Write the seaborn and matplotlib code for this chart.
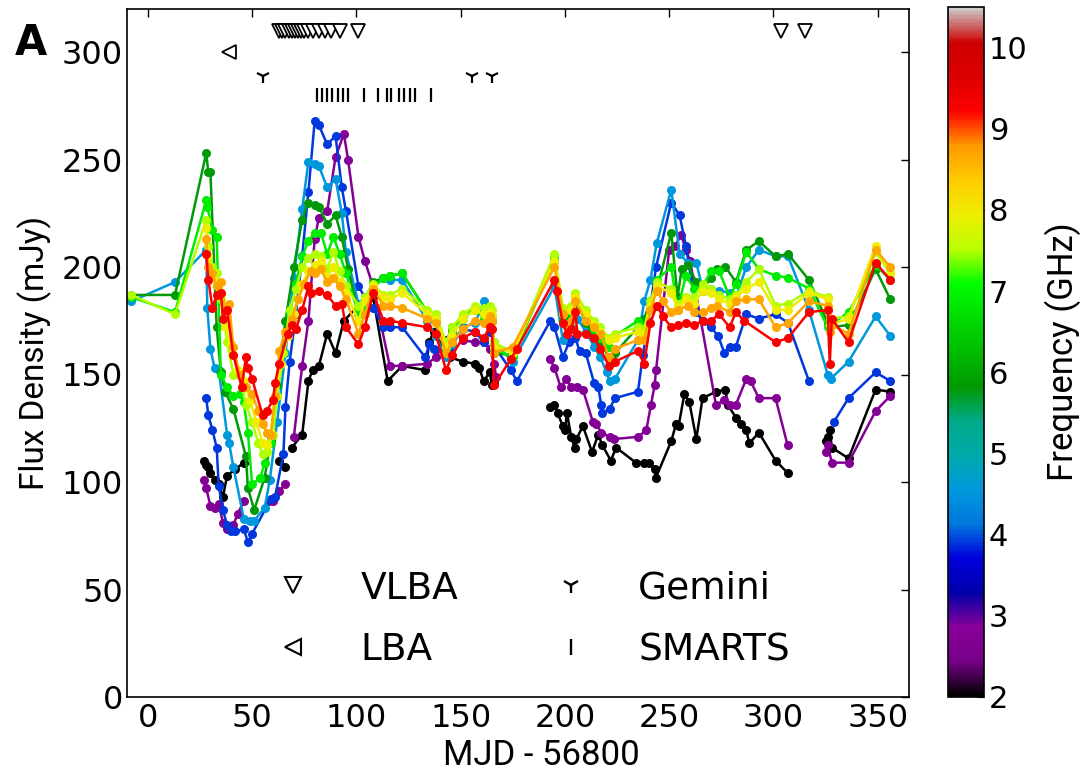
import numpy as np
import pandas as pd
import seaborn as sns
import matplotlib
matplotlib.use("Agg")
import matplotlib.pyplot as plt
from matplotlib.lines import Line2D
from matplotlib.colors import Normalize
from matplotlib.cm import ScalarMappable

nan = np.nan

# observing frequency (GHz) of each light curve
freq_black = 2.0
freq_purple = 2.75
freq_blue = 3.9
freq_teal = 4.55
freq_dkgreen = 5.8
freq_green = 6.85
freq_lime = 7.5
freq_yellow = 7.95
freq_orange = 8.7
freq_red = 9.3

# MJD - 56800 and flux density (mJy); nan marks a gap in the light curve
mjd_black = [27, 28, 29, 30, 32, 34, 36, 38, 42, 46, nan,
             63, 66, nan,
             69, 74, 77, 79, 82, 86, 90, 94, 102, 108, 115, 122, 133, 135, 137, 145,
             151, 157, 159, 161, 164, 165, 166, nan,
             193, 195, 196.5, 199, 200, 201, 203, 204.6, 205.5, 208.6, 213, 216, 218,
             222, 224.6, 234, 238, 240.5, 243, 243.6, 251, 253.3, 254.5, 257.3, 259.7,
             263, 266, 272.5, 277, 278, 282, 284.5, 287, 288.4, 293, 301, 307, nan,
             325, 326, 327, 328, 336, 349, 356]
flux_black = [110, 108, 107, 104, 101, 99, 93, 103, 106, 109, nan,
              110, 107, nan,
              116, 122, 147, 152, 154, 169, 160, 175, 183, 186, 147, 154, 152, 165, 170, 158,
              156, 155, 153, 147, 151, 145, 146, nan,
              135, 136, 132, 126, 124, 132, 121, 116, 120, 126, 114, 122, 117,
              110, 116, 109, 109, 109, 106, 102, 119, 127, 126, 141, 137,
              120, 139, 142, 143, 136, 130, 127, 124, 118, 123, 110, 104, nan,
              119, 121, 124, 116, 111, 143, 142]

mjd_purple = [27, 28, 30, 32, 34, 36, 38, 41, 43, 46, nan,
              58, 60, 63, 66, nan,
              70, 74, 77, 80, 82, 86, 90, 94, 96, 101, 104, 108, 116, 122, 134, 138,
              143, 146, 151, 157, 161, 164, 166, 167, nan,
              193, 195, 198, 200.6, 203, 206, 208.6, 213.4, 215, 217.4, 221.4, 223.6,
              235, 239, 241.3, 243, 243.7, 250, 253, 255.7, 258, 260, 272.4, 276.5,
              279, 282, 287, 289, 293, 301, 306.8, nan,
              325, 326, 328, 336, 349, 356]
flux_purple = [101, 97, 89, 88, 90, 81, 78, 80, 85, 91, nan,
               91, 91, 96, 99, nan,
               121, 154, 175, 213, 223, 226, 251, 262, 250, 214, 203, 191, 154, 154, 155, 158,
               166, 171, 166, 165, 165, 162, 155, 149, nan,
               157, 153, 144, 148, 144, 144, 143, 128, 127, 123, 121, 120,
               121, 124, 136, 145, 152, 208, 210, 215, 208, 203, 136, 138,
               136, 136, 148, 147, 139, 139, 117, nan,
               114, 117, 109, 109, 133, 140]

mjd_blue = [28, 29, 31, 33, 34, 36, 38, 40, 42, 46, 48, 50, 59, 61, 65, 66, 68, 71, 74, 77,
            80, 82, 86, 90, 93, 95, 101, 104, 108, 113, 116, 122, 133, 135, 137, 145, 151,
            157, 161, 164, 167, 174, 177, 193, 195, 199, 202, 205, 207, 210, 214, 216,
            217.4, 218, 221.4, 224, 235, 237.4, 240, 243.7, 251, 255, 258, 263, 266, 270,
            273.4, 276.5, 279, 282, 287, 293, 301, 307, 317, nan,
            329, 336, 349, 356]
flux_blue = [139, 131, 124, 116, 98, 87, 80, 77, 77, 78, 72, 76, 92, 93, 113, 135, 156, 178, 205, 235,
             268, 266, 257, 261, 237, 226, 191, 186, 181, 172, 172, 172, 158, 164, 162, 163, 171,
             170, 165, 170, 162, 152, 147, 175, 172, 158, 165, 167, 161, 160, 146, 144,
             136, 132, 134, 139, 142, 159, 175, 200, 230, 224, 210, 179, 175, 172,
             168, 160, 163, 163, 178, 176, 178, 174, 147, nan,
             128, 139, 151, 147]

mjd_teal = [-8, 13, 28, 28.5, 30, 32, 34, 38, 39, 41, 46, 49, 51, 56, 58.5, 62, 66, 70, 74, 77,
            80, 82, 86, 90, 93, 95, 101, 104, 108, 113, 116, 122, 134, 138, 143, 146, 151, 157,
            161, 164, 166, 175, 195, 199, 203, 206, 210, 214, 217, 220, 221.4, 224, 235, 238,
            241, 244, 251, 255, 259, 263, 266, 270, 274, 279, 282, 287, 293, 301, 307, 317,
            326, 327.5, 336, 349, 356]
flux_teal = [184, 193, 208, 181, 162, 153, 152, 122, 118, 107, 83, 82, 82, 88, 101, 128, 160, 195, 227, 249,
             248, 247, 237, 241, 225, 207, 183, 186, 192, 195, 194, 194, 175, 168, 158, 164, 172, 174,
             184, 181, 165, 156, 191, 166, 172, 176, 170, 163, 158, 151, 147, 148, 166, 184,
             194, 211, 236, 206, 202, 202, 190, 190, 189, 188, 186, 200, 208, 205, 205, 180,
             150, 148, 156, 177, 168]

mjd_dkgreen = [-8, 13, 28, 29, 30, 33, 35, 37, 41, 47, 48, 51, 56, 59, 62, 66, 70, 74, 77, 80,
               82, 86, 90, 93, 96, 101, 104, 108, 113, 116, 122, 134, 138, 143, 146, 151, 157,
               161, 164, 165, 166, 175, 195, 199, 203, 206, 210, 214, 217, 221, 224, 235, 238,
               241, 244, 251, 254, 256, 259, 263, 266, 270, 273, 277, 282, 287, 293, 301, 307,
               317, 326, 327, 336, 349, 356]
flux_dkgreen = [187, 187, 253, 244, 244, 172, 151, 142, 134, 112, 97, 87, 102, 120, 145, 175, 200, 222, 230, 229,
                228, 220, 224, 214, 199, 179, 184, 193, 195, 196, 197, 179, 176, 162, 172, 176, 180,
                178, 178, 175, 160, 159, 203, 175, 177, 183, 174, 168, 165, 158, 160, 172, 176,
                184, 189, 216, 186, 199, 201, 193, 189, 195, 199, 200, 193, 208, 212, 205, 206,
                194, 174, 172, 173, 199, 185]

mjd_green = [-8, 13, 28, 28.5, 31, 33, 35, 38, 41, 44, 46, 48, 50, 54, 56, 59, 62, 65, 68, 71,
             74, 77, 80, 83, 86, 89, 92, 95, 101, 104, 108, 113, 116, 122, 134, 138, 143, 146,
             151, 157, 161, 164, 165, 166, 175, 195, 199, 203, 205, 210, 214, 217, 221, 224,
             235, 238, 241, 244, 251, 254, 258, 262, 266, 270, 274, 279, 282, 287, 293, 301,
             307, 317, 326, 327, 336, 349, 356]
flux_green = [186, 179, 231, 228, 217, 214, 150, 144, 140, 141, 137, 123, 99, 102, 109, 118, 140, 160, 178, 192,
              205, 212, 216, 216, 206, 214, 206, 197, 178, 180, 190, 195, 196, 197, 179, 175, 163, 170,
              177, 181, 176, 180, 177, 162, 158, 204, 178, 179, 186, 177, 171, 167, 163, 168,
              175, 172, 182, 194, 200, 180, 196, 190, 191, 198, 198, 186, 192, 207, 199, 196,
              195, 190, 172, 173, 179, 201, 194]

mjd_lime = [-8, 13, 28, 29, 31, 33, 35, 38, 41, 44, 47, 50, 53, 55, 57, 60, 62, 65, 68, 71,
            74, 77, 80, 83, 86, 89, 92, 95, 101, 104, 108, 113, 116, 122, 134, 138, 143, 146,
            151, 157, 161, 164, 165, 166, 175, 195, 199, 203, 205, 210, 214, 217, 221, 224,
            235, 238, 241, 244, 251, 254, 258, 262, 266, 270, 274, 279, 282, 287, 293, 301,
            307, 317, 326, 327, 336, 349, 356]
flux_lime = [187, 178, 222, 210, 200, 197, 185, 165, 150, 150, 136, 128, 118, 113, 114, 122, 140, 160, 180, 190,
             200, 204, 206, 205, 199, 207, 198, 191, 182, 186, 192, 187, 187, 190, 180, 178, 165, 172,
             178, 182, 181, 182, 180, 165, 160, 206, 181, 182, 188, 180, 175, 172, 167, 169,
             172, 171, 184, 193, 190, 183, 186, 186, 192, 190, 187, 185, 187, 193, 199, 182,
             183, 189, 186, 176, 177, 207, 197]

mjd_yellow = [28, 29, 31, 33, 35, 37, 40, 43, 46, 49, 52, 55, 57, 59, 61, 64, 67, 70, 74, 77,
              80, 83, 86, 89, 92, 95, 101, 104, 108, 113, 116, 122, 134, 138, 143, 146, 151,
              157, 161, 164, 165, 166, 175, 195, 199, 203, 205, 210, 214, 217, 221, 224, 235,
              238, 241, 244, 251, 254, 258, 262, 266, 270, 274, 279, 282, 287, 293, 301, 307,
              317, 326, 327, 336, 349, 356]
flux_yellow = [218, 205, 196, 193, 188, 172, 164, 152, 147, 138, 128, 118, 117, 123, 140, 155, 168, 178, 192, 198,
               201, 203, 196, 200, 193, 188, 175, 184, 191, 186, 185, 188, 178, 176, 163, 168, 176,
               180, 178, 179, 177, 163, 160, 203, 178, 180, 186, 178, 173, 170, 166, 167, 170,
               168, 182, 191, 188, 181, 185, 183, 189, 188, 185, 183, 186, 190, 193, 180, 180,
               188, 185, 173, 176, 210, 197]

mjd_orange = [28, 29, 31, 33, 35, 37, 39, 41, 44, 47, 50, 53, 55, 57, 59, 61, 63, 66, 69, 72,
              75, 78, 80, 83, 86, 89, 92, 95, 101, 104, 108, 113, 116, 122, 134, 138, 143, 146,
              151, 157, 161, 164, 165, 166, 175, 195, 199, 201, 203, 205, 210, 214, 217, 221,
              224, 235, 238, 241, 244, 247, 251, 254, 259, 262, 266, 270, 273, 279, 282, 287,
              293, 301, 307, 317, 326, 327, 328, 336, 349, 356]
flux_orange = [213, 200, 197, 191, 193, 180, 183, 163, 150, 144, 141, 133, 127, 123, 122, 140, 161, 170, 176, 185,
               192, 198, 197, 199, 193, 195, 191, 185, 169, 178, 190, 182, 182, 181, 176, 174, 160, 165,
               171, 175, 174, 177, 175, 160, 163, 200, 178, 172, 175, 184, 175, 172, 169, 158,
               162, 166, 166, 180, 189, 184, 179, 180, 182, 179, 179, 181, 182, 179, 184, 185,
               185, 172, 174, 184, 182, 170, 173, 169, 208, 200]

mjd_red = [28, 29, 31, 33, 35, 36, 38, 41, 45, 47, 48, 50, 55, 57, 60, 61, 63, 67, 69, 71,
           74, 77, 78, 82, 86, 90, 93, 95, 101, 104, 108, 113, 116, 122, 134, 138, 143, 146,
           151, 157, 161, 164, 165, 166, 174, 177, 195, 196, 199, 201, 203, 205, 206, 210,
           214, 217, 221, 224, 235, 238, 241, 244, 247, 251, 254, 258, 262, 266, 270, 274,
           279, 282, 286, 301, 307, 317, 326, 327, 328, 336, 349, 356]
flux_red = [206, 194, 181, 187, 188, 176, 180, 159, 144, 158, 153, 148, 131, 133, 138, 146, 155, 169, 173, 171,
            180, 191, 188, 189, 187, 182, 183, 172, 164, 172, 188, 175, 175, 174, 172, 169, 152, 159,
            167, 170, 167, 172, 171, 145, 157, 162, 194, 189, 174, 169, 171, 179, 169, 169,
            167, 162, 154, 156, 161, 155, 174, 182, 177, 172, 173, 174, 173, 175, 175, 178,
            172, 179, 175, 165, 167, 179, 180, 155, 176, 165, 202, 194]

# epochs of the other observations (MJD - 56800)
vlba_mjd = [63, 64.5, 66, 67.5, 69, 70.5, 72, 73.5, 75, 77, 79, 82, 85, 88, 92, 101, 303.5, 315]
lba_mjd = [39]
gemini_mjd = [55, 155.5, 165]
smarts_mjd = [81, 83.5, 86, 88.5, 91, 93.5, 96, 103.5, 110.5, 114.5, 116.5, 120.5, 123, 125.5, 128, 136]

series = [
    (freq_black, mjd_black, flux_black),
    (freq_purple, mjd_purple, flux_purple),
    (freq_blue, mjd_blue, flux_blue),
    (freq_teal, mjd_teal, flux_teal),
    (freq_dkgreen, mjd_dkgreen, flux_dkgreen),
    (freq_green, mjd_green, flux_green),
    (freq_lime, mjd_lime, flux_lime),
    (freq_yellow, mjd_yellow, flux_yellow),
    (freq_orange, mjd_orange, flux_orange),
    (freq_red, mjd_red, flux_red),
]

# long table, one segment id per unbroken stretch of a light curve
rows = []
seg = 0
for f, xs, ys in series:
    assert len(xs) == len(ys), f
    seg += 1
    for x, y in zip(xs, ys):
        if np.isnan(y):
            seg += 1
            continue
        rows.append((x, y, f, seg))
df = pd.DataFrame(rows, columns=["mjd", "flux", "freq", "seg"])

sns.set_style("white")
plt.rcParams["font.family"] = ["DejaVu Sans"]
plt.rcParams["xtick.direction"] = "in"
plt.rcParams["ytick.direction"] = "in"
for key in ["text.color", "axes.labelcolor", "xtick.color", "ytick.color", "axes.edgecolor"]:
    plt.rcParams[key] = "black"

fig = plt.figure(figsize=(10.87, 7.73), dpi=100)
ax = fig.add_axes([127 / 1087, 76 / 773, 782 / 1087, 688 / 773])
cax = fig.add_axes([948 / 1087, 76 / 773, 36 / 1087, 690 / 773])

fmin, fmax = 2.0, 10.5
sns.lineplot(data=df, x="mjd", y="flux", hue="freq", units="seg", estimator=None,
             palette="nipy_spectral", hue_norm=(fmin, fmax), sort=False, legend=False,
             marker="o", markersize=6.5, markeredgewidth=0, linewidth=1.8, ax=ax)

# markers for the other observing campaigns
ax.plot(vlba_mjd, [310] * len(vlba_mjd), ls="none", marker="v", ms=9.5, mfc="white", mec="black", mew=1.3)
ax.plot(lba_mjd, [300] * len(lba_mjd), ls="none", marker="<", ms=9.5, mfc="white", mec="black", mew=1.3)
ax.plot(gemini_mjd, [289] * len(gemini_mjd), ls="none", marker="1", ms=10, color="black", mew=1.6)
ax.plot(smarts_mjd, [280] * len(smarts_mjd), ls="none", marker="|", ms=10, color="black", mew=1.6)

ax.set_xlim(-10, 365)
ax.set_ylim(0, 320)
ax.set_xticks(range(0, 351, 50))
ax.set_yticks(range(0, 301, 50))
ax.tick_params(axis="both", which="major", labelsize=23, length=6, width=1, top=True, right=True)
ax.tick_params(axis="x", pad=4)
ax.tick_params(axis="y", pad=3)
for sp in ax.spines.values():
    sp.set_linewidth(1.2)

ax.set_xlabel("MJD - 56800", fontsize=25, family="Roboto")
ax.set_ylabel("Flux Density (mJy)", fontsize=24, family="Roboto", labelpad=7)
ax.xaxis.set_label_coords(0.53, -0.061)

handles = [
    Line2D([], [], ls="none", marker="v", ms=12, mfc="white", mec="black", mew=1.5),
    Line2D([], [], ls="none", marker="<", ms=12, mfc="white", mec="black", mew=1.5),
    Line2D([], [], ls="none", marker="1", ms=12, color="black", mew=1.7),
    Line2D([], [], ls="none", marker="|", ms=12, color="black", mew=1.7),
]
ax.legend(handles, ["VLBA", "LBA", "Gemini", "SMARTS"], ncol=2, frameon=False, fontsize=27,
          loc="center", bbox_to_anchor=(0.506, 0.113), handletextpad=0.8, columnspacing=2.0,
          labelspacing=0.68)

sm = ScalarMappable(norm=Normalize(fmin, fmax), cmap="nipy_spectral")
cb = fig.colorbar(sm, cax=cax, ticks=range(2, 11))
cb.ax.tick_params(labelsize=22, length=5, direction="in")
cb.outline.set_linewidth(1.2)
cb.set_label("Frequency (GHz)", fontsize=25, family="Roboto", labelpad=12)

fig.text(15 / 1087, 1 - 55 / 773, "A", fontsize=30, fontweight="bold", va="baseline")

fig.savefig("out.png", dpi=100)
